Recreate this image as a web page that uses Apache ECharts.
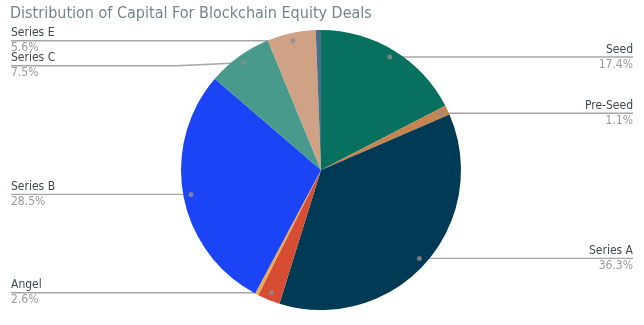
<!DOCTYPE html>
<html>
<head>
<meta charset="utf-8">
<script src="https://cdn.jsdelivr.net/npm/echarts@6/dist/echarts.min.js"></script>
<style>html,body{margin:0;padding:0;background:#fff}#c{width:644px;height:325px}</style>
</head>
<body>
<div id="c"></div>
<script>
const titleText = 'Distribution of Capital For Blockchain Equity Deals';
const categories = ['Seed', 'Pre-Seed', 'Series A', 'Angel', 'Accelerator', 'Series B', 'Series C', 'Series E', 'Series D'];
const shares = [17.4, 1.1, 36.3, 2.6, 0.4, 28.5, 7.5, 5.6, 0.6];
const showLabel = [true, true, true, true, false, true, true, true, false];
const colors = ['#07705f', '#c8844f', '#003a54', '#d64d33', '#e9aa52', '#1a44f5', '#479a8c', '#cfa285', '#4a6f86'];

const CX = 321, CY = 170, R = 140, DOT_R = 0.945;
const W = 644, EDGE = 11;
const total = shares.reduce((a, b) => a + b, 0);

const mids = [];
let acc = 0;
shares.forEach(v => { mids.push((acc + v / 2) / total * 100); acc += v; });

function pt(frac, r) {
  const th = (90 - 360 * frac / 100) * Math.PI / 180;
  return [CX + r * Math.cos(th), CY - r * Math.sin(th)];
}
const dots = mids.map(m => pt(m, R * DOT_R));
const isLeft = dots.map(d => d[0] < CX);

const labelY = dots.map(d => d[1]);
[true, false].forEach(side => {
  const idx = categories.map((_, i) => i).filter(i => showLabel[i] && isLeft[i] === side)
    .sort((a, b) => dots[a][1] - dots[b][1]);
  let last = -1e9;
  idx.forEach(i => {
    const y = Math.max(dots[i][1], last + 25);
    labelY[i] = y; last = y;
  });
});

const chart = echarts.init(document.getElementById('c'), null, {renderer: 'canvas'});
chart.setOption({
  animation: false,
  title: {
    text: titleText, left: 5, top: 1,
    textStyle: {fontFamily: 'DejaVu Sans Condensed', fontSize: 16, fontWeight: 'normal', color: '#78838b'}
  },
  polar: {center: [CX, CY], radius: R},
  angleAxis: {type: 'value', min: 0, max: 100, startAngle: 90, clockwise: true, show: false},
  radiusAxis: {type: 'value', min: 0, max: 1, show: false},
  series: [{
    type: 'pie',
    center: [CX, CY],
    radius: R,
    startAngle: 90,
    clockwise: true,
    avoidLabelOverlap: false,
    label: {
      show: true,
      fontFamily: 'DejaVu Sans Condensed',
      formatter: p => '{n|' + p.name + '}\n{p|' + p.value.toFixed(1) + '%}',
      rich: {
        n: {fontFamily: 'DejaVu Sans Condensed', fontSize: 12, color: '#3f4850', lineHeight: 14, padding: [0, 0, 1, 0]},
        p: {fontFamily: 'DejaVu Sans Condensed', fontSize: 12, color: '#9a9a9a', lineHeight: 14, padding: [1, 0, 0, 0]}
      }
    },
    labelLine: {show: true, length: 5, length2: 5, lineStyle: {color: '#a6a6a6', width: 1.4}},
    labelLayout: function (params) {
      const i = params.dataIndex;
      const left = isLeft[i];
      const y = labelY[i];
      const x = left ? EDGE : W - EDGE;
      return {
        x: x, y: y, align: left ? 'left' : 'right', verticalAlign: 'middle',
        labelLinePoints: [dots[i].slice(), [left ? CX - R - 5 : CX + R + 5, y], [x, y]]
      };
    },
    emphasis: {disabled: true},
    data: categories.map((c, i) => ({
      name: c, value: shares[i],
      itemStyle: {color: colors[i]},
      label: {show: showLabel[i]},
      labelLine: {show: showLabel[i]}
    }))
  }, {
    type: 'scatter',
    coordinateSystem: 'polar',
    symbolSize: 5,
    z: 10,
    silent: true,
    itemStyle: {color: '#8f8f8f'},
    data: mids.map((m, i) => showLabel[i] ? [DOT_R, m] : null).filter(d => d)
  }]
});
</script>
</body>
</html>
